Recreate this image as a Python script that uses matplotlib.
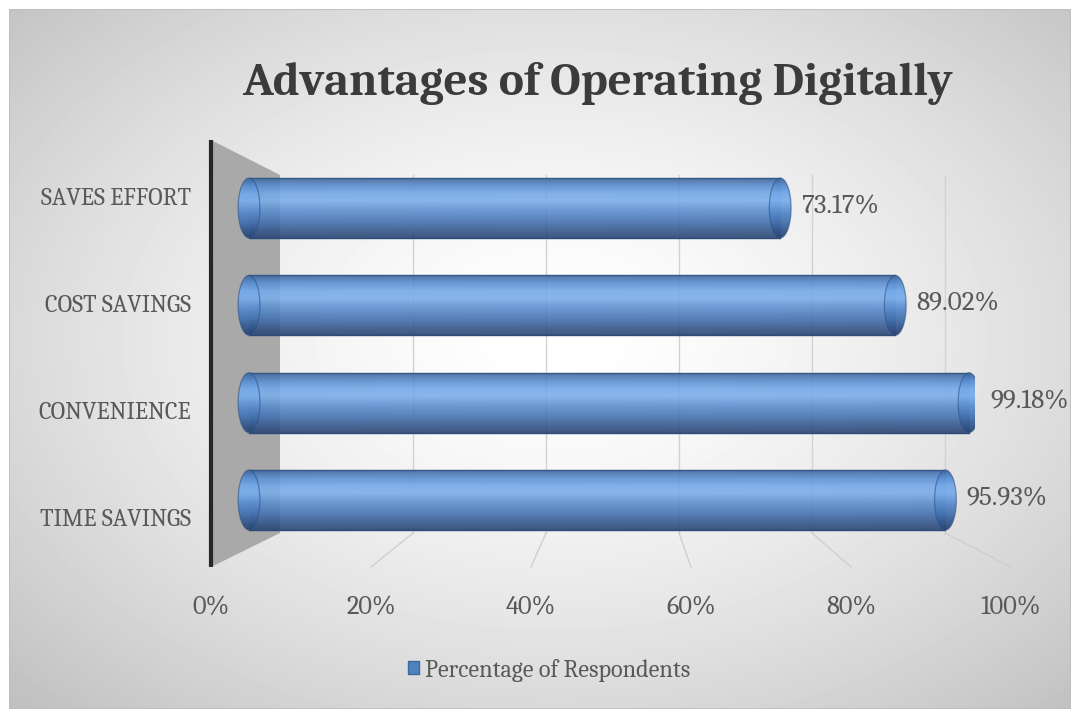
import numpy as np
import matplotlib
matplotlib.use("Agg")
import matplotlib.pyplot as plt
from matplotlib.patches import Polygon, Ellipse, Rectangle, Patch
from matplotlib.colors import LinearSegmentedColormap

# data
categories = ["TIME SAVINGS", "CONVENIENCE", "COST SAVINGS", "SAVES EFFORT"]
values = [95.93, 99.18, 89.02, 73.17]
ticks = [0, 20, 40, 60, 80, 100]
tick_labels = ["0%", "20%", "40%", "60%", "80%", "100%"]
title = "Advantages of Operating Digitally"
legend_label = "Percentage of Respondents"

SERIF = ["Caladea", "Liberation Serif"]
TXT = "#595959"

W, H = 1071, 709
fig = plt.figure(figsize=(W / 100, H / 100), dpi=100)
fig.patch.set_facecolor("white")

def fx(px):
    return px / W

def fy(py):
    return 1 - py / H

# background with radial gradient
bg = fig.add_axes([fx(9), 0, 1 - fx(9), fy(9)], zorder=0)
yy, xx = np.mgrid[0:700, 0:1062]
r = np.sqrt(((xx - 545) / 640) ** 2 + ((yy - 330) / 430) ** 2)
shade = 1 - 0.19 * np.clip(r, 0, 1.4) ** 1.5
bg.imshow(shade, cmap="gray", vmin=0, vmax=1, aspect="auto", extent=(0, 1, 0, 1))
bg.add_patch(Rectangle((0, 0), 1, 1, fill=False, edgecolor="#bdbdbd", lw=1.2,
                       transform=bg.transAxes))
bg.axis("off")

# 3d walls / floor decorations (pixel coords)
deco = fig.add_axes([0, 0, 1, 1], zorder=1)
deco.set_xlim(0, W)
deco.set_ylim(H, 0)
deco.axis("off")
deco.patch.set_alpha(0)

back_top, back_bot = 175, 533
front_top, front_bot = 140, 567
back_x = lambda p: 280 + p * 6.65
front_x = lambda p: 211 + p * 8.0

deco.add_patch(Polygon([(211, front_top), (280, back_top), (280, back_bot), (211, front_bot)],
                       closed=True, facecolor="#a9a9a9", edgecolor="none"))
for t in ticks[1:]:
    deco.plot([back_x(t)] * 2, [back_top, back_bot], color="#d2d2d2", lw=1)
    deco.plot([back_x(t), front_x(t)], [back_bot, front_bot], color="#cfcfcf", lw=1)
deco.plot([211, 211], [front_top, front_bot], color="#262626", lw=3, solid_capstyle="butt")

# bars (0% at 249px, 100% at 975px, middle depth plane)
px0, px100 = 249, 975
ppu = (px100 - px0) / 100
xmin = -6
ax = fig.add_axes([fx(px0 + xmin * ppu), fy(567), fx(px100) - fx(px0 + xmin * ppu),
                   (567 - 140) / H], zorder=2)
ax.patch.set_alpha(0)
step = 97.33
cyl = LinearSegmentedColormap.from_list("cyl", ["#40679c", "#5a8ed0", "#74a7e6", "#7caeea",
                                                "#6597d6", "#5282c2", "#4470ac", "#35598e",
                                                "#2a4572"])
grad = np.linspace(0, 1, 64).reshape(-1, 1)
bh = 0.615
cap_w = 3.0

for i, v in enumerate(values):
    ax.imshow(grad, extent=(0, v, i - bh / 2, i + bh / 2), aspect="auto", cmap=cyl,
              alpha=0.9, zorder=2, origin="upper", interpolation="bilinear")
    ax.plot([0, v], [i + bh / 2] * 2, color="#34578a", lw=1, zorder=3)
    ax.plot([0, v], [i - bh / 2] * 2, color="#2c4b78", lw=1, zorder=3)
    for xc in (0, v):
        ell = Ellipse((xc, i), cap_w, bh, transform=ax.transData)
        im = ax.imshow(grad, extent=(xc - cap_w / 2, xc + cap_w / 2, i - bh / 2, i + bh / 2),
                       aspect="auto", cmap=cyl, alpha=0.95, zorder=4, origin="upper",
                       interpolation="bilinear")
        im.set_clip_path(ell)
        ax.add_patch(Ellipse((xc, i), cap_w, bh, fill=False, edgecolor="#2f5587",
                             lw=0.9, alpha=0.6, zorder=4.5))
    ax.text(v + 2.9, i + 0.02, f"{v:.2f}%", va="center", ha="left", fontsize=19.5,
            family=SERIF, color=TXT, clip_on=False)

ax.set_xlim(xmin, 100)
ax.set_ylim(-(567 - 500) / step, 3 + (208 - 140) / step)
ax.set_xticks([])
ax.set_yticks([])
for s in ax.spines.values():
    s.set_visible(False)

# front plane: category labels and percentage axis
axf = fig.add_axes([fx(211), fy(567), fx(1011) - fx(211), (567 - 140) / H], zorder=2)
axf.patch.set_alpha(0)
axf.set_xlim(0, 100)
axf.set_ylim(-0.47, 3.53)
axf.set_xticks(ticks)
axf.set_xticklabels(tick_labels, family=SERIF, fontsize=19, color=TXT)
axf.tick_params(axis="x", length=0, pad=20)
axf.set_yticks(range(len(categories)))
axf.set_yticklabels(categories, family=SERIF, fontsize=17.5, color=TXT)
axf.tick_params(axis="y", length=0, pad=(211 - 191) * 0.72)
for s in axf.spines.values():
    s.set_visible(False)

fig.text(fx(597), fy(95), title, ha="center", va="baseline", fontsize=34,
         fontweight="bold", family=SERIF, color="#3b3b3b")

fig.legend(handles=[Patch(facecolor="#4f81bd", edgecolor="#3a6aa8")], labels=[legend_label],
           loc="center", bbox_to_anchor=(fx(549), fy(670)), frameon=False,
           prop={"family": SERIF, "size": 17.5}, labelcolor=TXT,
           handlelength=0.45, handleheight=0.45, handletextpad=0.25)

fig.savefig("out.png", dpi=100)
